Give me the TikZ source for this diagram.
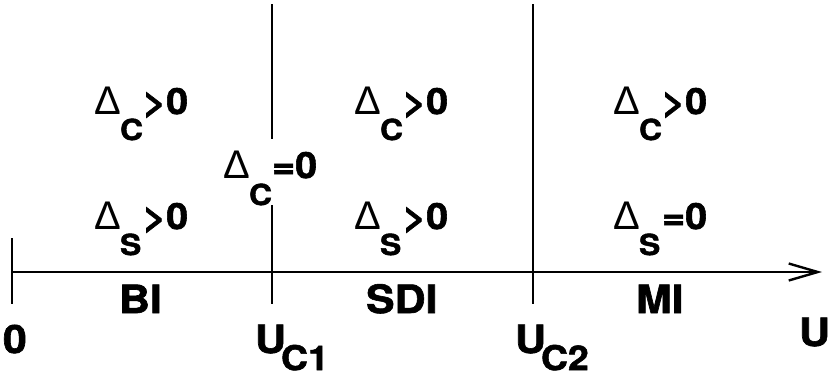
\documentclass[tikz,border=0pt]{standalone}
\usepackage{fontspec}
\setmainfont{TeX Gyre Heros}[BoldFeatures={FakeBold=1.6,FakeStretch=1.1}]
\newfontfamily\deltafont{Liberation Sans}
\usetikzlibrary{arrows.meta}
\begin{document}
\begin{tikzpicture}[x=1pt,y=-1pt,
  rule/.style={line width=2.4pt},
  txtbase/.style={inner sep=0pt,outer sep=0pt,anchor=base west},
  region/.style={txtbase,font=\bfseries\fontsize{39}{39}\selectfont},
  gapsym/.style={txtbase,font=\deltafont\fontsize{40}{40}\selectfont},
  gapsub/.style={txtbase,font=\bfseries\fontsize{29}{29}\selectfont},
  gaprel/.style={txtbase,font=\bfseries\fontsize{36}{36}\selectfont},
  usub/.style={txtbase,font=\bfseries\fontsize{34}{34}\selectfont}
]
\useasboundingbox (0,0) rectangle (829,376);

% U axis with the origin tick and the two critical values
\coordinate (ax0) at (12,272);
\coordinate (axend) at (822,272);
\draw[rule,-{Straight Barb[length=29pt,width=17pt,line width=2.4pt]}] (ax0) -- (axend);
\coordinate (t0a) at (12,238);
\coordinate (t0b) at (12,304);
\draw[rule] (t0a) -- (t0b);
\coordinate (c1top) at (272,4);
\coordinate (c1mid) at (272,139);
\coordinate (c1low) at (272,205);
\coordinate (c1bot) at (272,304);
\draw[rule] (c1top) -- (c1mid);
\draw[rule] (c1low) -- (c1bot);
\coordinate (c2top) at (533,4);
\coordinate (c2bot) at (533,304);
\draw[rule] (c2top) -- (c2bot);

% charge gap labels
\foreach \x/\n in {94/a,354/b,613/c}{
  \node[gapsym] (dc\n) at (\x,114) {Δ};
  \node[gapsub] (dcs\n) at (\x+26,140) {C};
  \node[gaprel] (dcr\n) at (\x+49,114) {>0};
}
\node[gapsym] (dcz) at (223,178) {Δ};
\node[gapsub] (dczs) at (249,205) {C};
\node[gaprel] (dczr) at (272,178) {=0};

% spin gap labels
\foreach \x/\n in {94/a,354/b}{
  \node[gapsym] (ds\n) at (\x,229) {Δ};
  \node[gapsub] (dss\n) at (\x+26,255) {S};
  \node[gaprel] (dsr\n) at (\x+49,229) {>0};
}
\node[gapsym] (dsc) at (613,229) {Δ};
\node[gapsub] (dssc) at (639,255) {S};
\node[gaprel] (dsrc) at (662,229) {=0};

% phase names
\node[region] (bi) at (119,313) {BI};
\node[region] (sdi) at (366,313) {SDI};
\node[region] (mi) at (636,313) {MI};

% axis values
\node[region] (zero) at (3,353) {0};
\node[region] (uc1) at (255,353) {U};
\node[usub] (uc1s) at (281,370) {C1};
\node[region] (uc2) at (515,353) {U};
\node[usub] (uc2s) at (541,370) {C2};
\node[region] (uax) at (799,346) {U};
\end{tikzpicture}
\end{document}
